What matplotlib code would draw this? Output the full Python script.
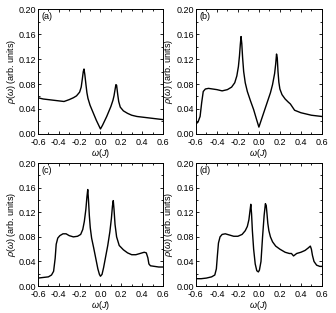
import numpy as np
import matplotlib
matplotlib.use("Agg")
import matplotlib.pyplot as plt
from matplotlib.ticker import MultipleLocator

plt.rcParams['font.family'] = ['Liberation Sans', 'DejaVu Sans']
plt.rcParams['mathtext.fontset'] = 'custom'
plt.rcParams['mathtext.rm'] = 'Liberation Sans'
plt.rcParams['mathtext.it'] = 'Liberation Sans:italic'

# panel (a)
wa = [-0.6, -0.55, -0.5, -0.45, -0.4, -0.35, -0.3, -0.26, -0.23, -0.2, -0.185, -0.175,
      -0.165, -0.158, -0.15, -0.14, -0.13, -0.12, -0.1, -0.08, -0.06, -0.04, -0.02, 0.0,
      0.02, 0.04, 0.06, 0.08, 0.1, 0.12, 0.13, 0.14, 0.148, 0.155, 0.165, 0.175, 0.19,
      0.22, 0.26, 0.3, 0.35, 0.4, 0.45, 0.5, 0.55, 0.6]
ra = [0.058, 0.056, 0.055, 0.054, 0.053, 0.052, 0.055, 0.058, 0.061, 0.067, 0.075, 0.087,
      0.100, 0.104, 0.095, 0.080, 0.066, 0.057, 0.046, 0.038, 0.030, 0.022, 0.015, 0.008,
      0.014, 0.021, 0.028, 0.036, 0.044, 0.054, 0.061, 0.071, 0.079, 0.078, 0.064, 0.052,
      0.043, 0.037, 0.033, 0.030, 0.028, 0.027, 0.026, 0.025, 0.024, 0.023]

# panel (b)
wb = [-0.6, -0.58, -0.56, -0.545, -0.53, -0.51, -0.48, -0.44, -0.4, -0.35, -0.3, -0.26,
      -0.23, -0.21, -0.195, -0.185, -0.177, -0.17, -0.163, -0.155, -0.145, -0.13, -0.11,
      -0.08, -0.05, -0.02, 0.0, 0.02, 0.05, 0.08, 0.11, 0.13, 0.15, 0.16, 0.168, 0.175,
      0.182, 0.19, 0.2, 0.22, 0.25, 0.28, 0.3, 0.32, 0.34, 0.37, 0.4, 0.45, 0.5, 0.55, 0.6]
rb = [0.016, 0.019, 0.028, 0.050, 0.068, 0.072, 0.073, 0.072, 0.071, 0.069, 0.071, 0.075,
      0.082, 0.093, 0.108, 0.125, 0.143, 0.156, 0.145, 0.122, 0.100, 0.082, 0.068,
      0.053, 0.039, 0.022, 0.011, 0.021, 0.036, 0.051, 0.066, 0.079, 0.097, 0.112, 0.128, 0.122,
      0.100, 0.083, 0.072, 0.063, 0.056, 0.051, 0.048, 0.043, 0.038, 0.036, 0.034, 0.032, 0.030, 0.029, 0.028]

# panel (c)
wc = [-0.6, -0.55, -0.5, -0.47, -0.45, -0.435, -0.425, -0.41, -0.39, -0.36, -0.33, -0.3,
      -0.26, -0.22, -0.19, -0.17, -0.155, -0.14, -0.13, -0.122, -0.115, -0.107, -0.098,
      -0.085, -0.065, -0.045, -0.025, -0.01, 0.0, 0.015, 0.03, 0.05, 0.07, 0.09, 0.105,
      0.115, 0.123, 0.13, 0.14, 0.155, 0.18, 0.22, 0.26, 0.3, 0.34, 0.38, 0.42, 0.44, 0.455,
      0.465, 0.48, 0.52, 0.56, 0.6]
rc = [0.013, 0.014, 0.015, 0.018, 0.024, 0.045, 0.068, 0.078, 0.082, 0.085, 0.085, 0.082,
      0.080, 0.081, 0.084, 0.092, 0.105, 0.125, 0.145, 0.157, 0.140, 0.115, 0.095,
      0.078, 0.062, 0.045, 0.028, 0.019, 0.016, 0.019, 0.030, 0.048, 0.066, 0.088, 0.110,
      0.130, 0.139, 0.125, 0.100, 0.080, 0.066, 0.059, 0.054, 0.051, 0.051, 0.053, 0.055, 0.054, 0.046,
      0.036, 0.033, 0.032, 0.031, 0.031]

# panel (d)
wd = [-0.6, -0.55, -0.5, -0.45, -0.42, -0.405, -0.395, -0.385, -0.37, -0.35, -0.32,
      -0.28, -0.24, -0.2, -0.16, -0.13, -0.11, -0.095, -0.085, -0.077, -0.07, -0.062,
      -0.05, -0.035, -0.02, -0.005, 0.005, 0.02, 0.035, 0.05, 0.062, 0.07, 0.077, 0.085,
      0.095, 0.11, 0.13, 0.16, 0.2, 0.25, 0.29, 0.31, 0.33, 0.36, 0.4, 0.44, 0.47, 0.49,
      0.5, 0.51, 0.525, 0.55, 0.58, 0.6]
rd = [0.012, 0.012, 0.013, 0.015, 0.018, 0.028, 0.050, 0.070, 0.080, 0.084, 0.085,
      0.083, 0.081, 0.081, 0.084, 0.090, 0.097, 0.108, 0.122, 0.133, 0.118, 0.090,
      0.060, 0.036, 0.025, 0.023, 0.026, 0.040, 0.080, 0.115, 0.134, 0.131, 0.118, 0.102,
      0.090, 0.080, 0.072, 0.065, 0.060, 0.055, 0.053, 0.053, 0.049, 0.053, 0.055, 0.058, 0.062, 0.065,
      0.060, 0.050, 0.040, 0.034, 0.032, 0.032]

panels = [("(a)", wa, ra), ("(b)", wb, rb), ("(c)", wc, rc), ("(d)", wd, rd)]
rects = [[0.113, 0.572, 0.372, 0.399], [0.583, 0.572, 0.375, 0.399],
         [0.113, 0.086, 0.372, 0.393], [0.583, 0.086, 0.375, 0.393]]

fig = plt.figure(figsize=(3.36, 3.13), dpi=100)
for (lab, w, r), rect in zip(panels, rects):
    ax = fig.add_axes(rect)
    ax.plot(w, r, color='black', lw=1.0)
    ax.set_xlim(-0.6, 0.6)
    ax.set_ylim(0, 0.2)
    ax.xaxis.set_major_locator(MultipleLocator(0.2))
    ax.xaxis.set_minor_locator(MultipleLocator(0.1))
    ax.yaxis.set_major_locator(MultipleLocator(0.04))
    ax.yaxis.set_minor_locator(MultipleLocator(0.02))
    ax.xaxis.set_major_formatter(matplotlib.ticker.FormatStrFormatter('%.1f'))
    ax.yaxis.set_major_formatter(matplotlib.ticker.FormatStrFormatter('%.2f'))
    ax.tick_params(which='both', direction='in', top=True, right=True, labelsize=6.5,
                   width=0.6)
    ax.tick_params(axis='x', pad=2.8)
    ax.tick_params(axis='y', pad=1.0)
    ax.tick_params(which='major', length=2.5)
    ax.tick_params(which='minor', length=1.5)
    for s in ax.spines.values():
        s.set_linewidth(0.7)
    ax.set_xlabel(r'$\omega$($J$)', fontsize=6.5, labelpad=0.3)
    ax.set_ylabel(r'$\rho$($\omega$) (arb. units)', fontsize=6.5, labelpad=1)
    ax.text(0.025, 0.975, lab, transform=ax.transAxes, ha='left', va='top', fontsize=6.5)

fig.savefig('out.png', dpi=100)
